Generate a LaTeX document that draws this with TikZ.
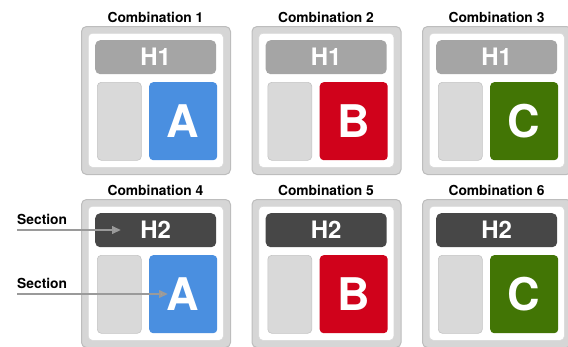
\documentclass[tikz,border=0pt]{standalone}
\usepackage{fontspec}
\setmainfont{TeX Gyre Heros}
\usetikzlibrary{arrows.meta}

\definecolor{framefill}{HTML}{D6D6D6}
\definecolor{frameline}{HTML}{BDBDBD}
\definecolor{sidefill}{HTML}{D9D9D9}
\definecolor{sideline}{HTML}{C4C4C4}
\definecolor{barone}{HTML}{A5A5A5}
\definecolor{bartwo}{HTML}{474747}
\definecolor{cellblue}{HTML}{4A8FE0}
\definecolor{cellred}{HTML}{D0021B}
\definecolor{cellgreen}{HTML}{427505}
\definecolor{arrowgray}{HTML}{9A9A9A}

\begin{document}
\begin{tikzpicture}[x=1pt,y=-1pt,
  every node/.style={inner sep=0pt, font=\bfseries},
  framebox/.style={draw=frameline, fill=framefill, line width=1pt, rounded corners=5pt,
    minimum width=149pt, minimum height=148pt, anchor=north west},
  pagebox/.style={draw=white!85!black, fill=white, line width=0.6pt, rounded corners=4pt,
    minimum width=135pt, minimum height=134pt, anchor=north west},
  headbar/.style={fill=#1, rounded corners=5pt, text=white, minimum width=121pt,
    minimum height=34pt, anchor=north west, font=\bfseries\fontsize{24}{27}\selectfont},
  sidebox/.style={draw=sideline, fill=sidefill, line width=0.6pt, rounded corners=4pt,
    minimum width=44pt, minimum height=78pt, anchor=north west},
  letterbox/.style={fill=#1, rounded corners=4pt, text=white, minimum width=68pt,
    minimum height=78pt, anchor=north west, font=\bfseries\fontsize{45}{50}\selectfont},
  titletext/.style={anchor=base, font=\bfseries\fontsize{13.8}{16}\selectfont},
  sectext/.style={anchor=base west, font=\bfseries\fontsize{13.8}{16}\selectfont},
  secarrow/.style={draw=arrowgray, line width=2.2pt,
    -{Triangle[length=9pt,width=7.5pt,fill=arrowgray!80!white]}}]
\useasboundingbox (0,0) rectangle (568,346);

% six combinations, two rows of three
\foreach \r/\barcol in {1/barone,2/bartwo} {
  \foreach \c/\lett/\col in {1/A/cellblue,2/B/cellred,3/C/cellgreen} {
    \pgfmathtruncatemacro{\n}{3*(\r-1)+\c}
    \pgfmathsetmacro{\bx}{81+(\c-1)*170.5}
    \pgfmathsetmacro{\by}{26+(\r-1)*173}
    \node[framebox] (frame\n) at (\bx,\by) {};
    \node[pagebox] (page\n) at (\bx+7,\by+7) {};
    \node[headbar=\barcol] (bar\n) at (\bx+14,\by+14) {H\r};
    \node[sidebox] (side\n) at (\bx+16,\by+56) {};
    \node[letterbox=\col] (cell\n) at (\bx+68,\by+56) {\lett};
    \node[titletext] (title\n) at (\bx+74.5,\by-4) {Combination \n};
  }
}

% section pointers
\node[sectext] (sec1) at (17,224) {Section};
\node[sectext] (sec2) at (17,288) {Section};
\coordinate (start1) at (17,230);
\coordinate (tip1) at (121,230);
\coordinate (start2) at (17,294);
\coordinate (tip2) at (168,294);
\draw[secarrow] (start1) -- (tip1);
\draw[secarrow] (start2) -- (tip2);
\end{tikzpicture}
\end{document}
